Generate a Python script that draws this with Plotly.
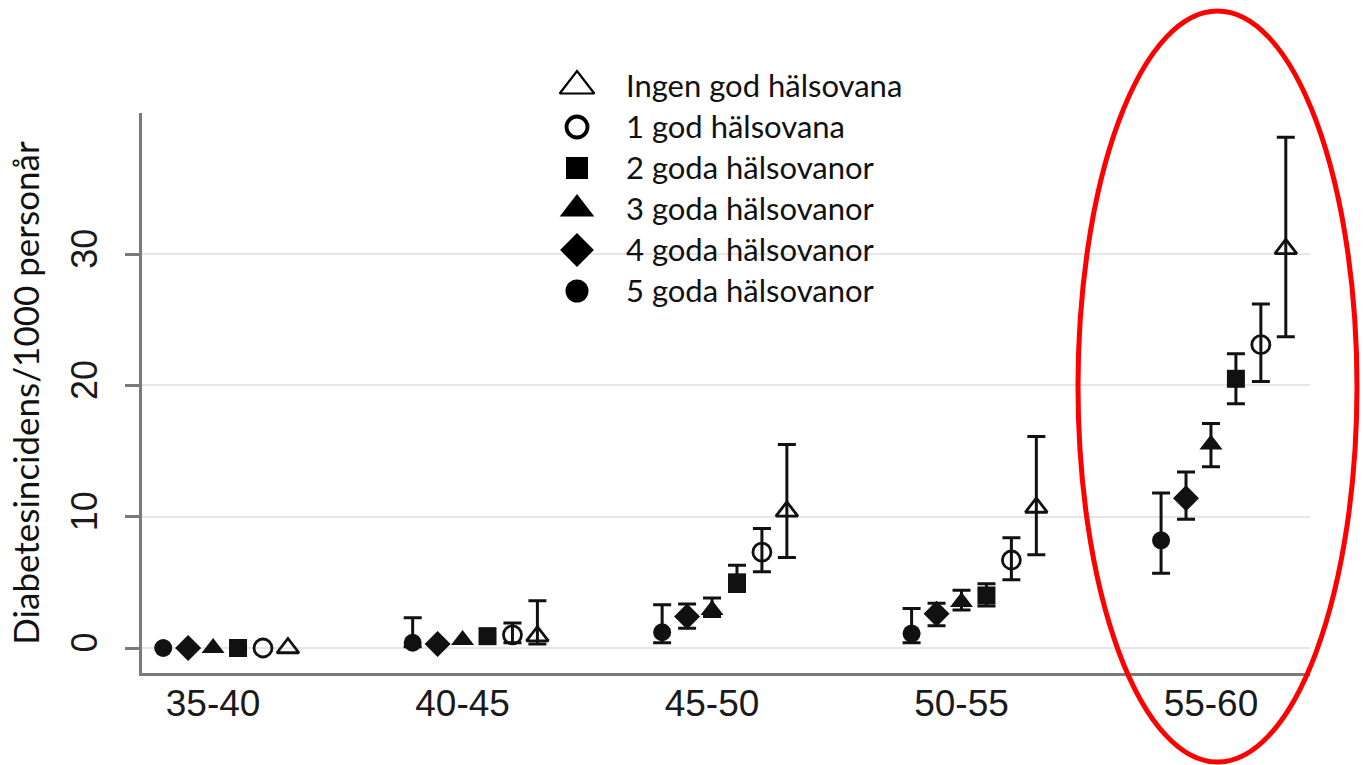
import plotly.graph_objects as go

# ---------------- data ----------------
age_groups = ["35-40", "40-45", "45-50", "50-55", "55-60"]

legend_labels = ["Ingen god hälsovana", "1 god hälsovana", "2 goda hälsovanor",
                 "3 goda hälsovanor", "4 goda hälsovanor", "5 goda hälsovanor"]

# incidence per 1000 person-years, with 95% CI (None = no visible interval)
rate_0 = [0.0, 0.9, 10.4, 10.7, 30.4]
upper_0 = [None, 3.6, 15.5, 16.1, 38.9]
lower_0 = [None, 0.3, 6.9, 7.1, 23.7]

rate_1 = [0.0, 1.0, 7.3, 6.7, 23.1]
upper_1 = [None, 1.9, 9.1, 8.4, 26.2]
lower_1 = [None, 0.4, 5.8, 5.2, 20.3]

rate_2 = [0.0, 0.9, 5.0, 4.0, 20.5]
upper_2 = [None, None, 6.3, 4.9, 22.4]
lower_2 = [None, None, 4.3, 3.2, 18.6]

rate_3 = [0.0, 0.6, 2.9, 3.5, 15.5]
upper_3 = [None, None, 3.8, 4.4, 17.1]
lower_3 = [None, None, 2.4, 2.9, 13.8]

rate_4 = [0.0, 0.3, 2.4, 2.6, 11.4]
upper_4 = [None, None, 3.35, 3.4, 13.4]
lower_4 = [None, None, 1.5, 1.7, 9.8]

rate_5 = [0.0, 0.4, 1.2, 1.1, 8.2]
upper_5 = [None, 2.3, 3.3, 3.0, 11.8]
lower_5 = [None, 0.1, 0.4, 0.4, 5.7]

y_ticks = [0, 10, 20, 30]

# ---------------- styling ----------------
W, H = 1363, 765
PL, PR, PT, PB = 142, 1310, 113, 673  # main plot area in pixels
PAPER_TOP = 5                          # top of paper area in pixels
INK = "#111111"
series = [
    # label index, rates, upper, lower, symbol, size, x-offset slot
    (5, rate_5, upper_5, lower_5, "circle", 18, -2),
    (4, rate_4, upper_4, lower_4, "diamond", 20, -1),
    (3, rate_3, upper_3, lower_3, "triangle-up", 20, 0),
    (2, rate_2, upper_2, lower_2, "square", 18, 1),
    (1, rate_1, upper_1, lower_1, "circle-open", 18, 2),
    (0, rate_0, upper_0, lower_0, "triangle-up-open", 19, 3),
]
legend_sizes = {0: 30, 1: 21, 2: 22, 3: 30, 4: 26, 5: 23}
slot_width = 0.1
x_range = [-0.285, 4.397]
y_range = [-1.904, 40.74]

fig = go.Figure()

for li, rates, up, lo, sym, size, slot in series:
    open_sym = sym.endswith("-open")
    mk = dict(symbol=sym, size=size, color=INK,
              line=dict(width=2.8 if open_sym else 0, color=INK))
    xs_ci, ys_ci, ep, em = [], [], [], []
    xs_no, ys_no = [], []
    for g, v in enumerate(rates):
        x = g + slot * slot_width
        if up[g] is None:
            xs_no.append(x); ys_no.append(v)
        else:
            xs_ci.append(x); ys_ci.append(v)
            ep.append(up[g] - v); em.append(v - lo[g])
    fig.add_trace(go.Scatter(
        x=xs_ci, y=ys_ci, mode="markers", marker=mk, name=legend_labels[li],
        showlegend=False, cliponaxis=False,
        error_y=dict(type="data", symmetric=False, array=ep, arrayminus=em,
                     color=INK, thickness=3, width=9)))
    fig.add_trace(go.Scatter(
        x=xs_no, y=ys_no, mode="markers", marker=mk, name=legend_labels[li],
        showlegend=False, cliponaxis=False))

# ---------------- legend drawn on its own pixel-scaled axis ----------------
legend_marker_px = 577
legend_text_px = 626
legend_top_px = 86
legend_row_px = 41
legend_text_dy = 3
sym_by_label = {li: sym for li, _, _, _, sym, _, _ in series}
for i, lab in enumerate(legend_labels):
    sym = sym_by_label[i]
    open_sym = sym.endswith("-open")
    fig.add_trace(go.Scatter(
        x=[legend_marker_px], y=[legend_top_px + i * legend_row_px],
        xaxis="x2", yaxis="y2", mode="markers", showlegend=False,
        cliponaxis=False, hoverinfo="skip",
        marker=dict(symbol=sym, size=legend_sizes[i], color="#000000",
                    line=dict(width=(3.8 if sym == "circle-open" else 2.2) if open_sym else 0,
                              color="#000000"))))
fig.add_trace(go.Scatter(
    x=[legend_text_px] * len(legend_labels),
    y=[legend_top_px + legend_text_dy + i * legend_row_px for i in range(len(legend_labels))],
    xaxis="x2", yaxis="y2", mode="text", text=legend_labels,
    textposition="middle right", showlegend=False, cliponaxis=False,
    hoverinfo="skip",
    textfont=dict(family="Lato, Carlito, sans-serif", size=31, color="#111111")))

# ---------------- red highlight ellipse ----------------
def px_x(p):
    return (p - PL) / (PR - PL)

def px_y(p):
    return (PB - p) / (PB - PAPER_TOP)

fig.add_shape(type="circle", xref="paper", yref="paper",
              x0=px_x(1078), x1=px_x(1357), y0=px_y(762), y1=px_y(11),
              line=dict(color="#ff0000", width=5), layer="above")

axis_col = "#7a7a7a"
fig.update_layout(
    width=W, height=H,
    margin=dict(l=PL, r=W - PR, t=PAPER_TOP, b=H - PB, pad=0),
    paper_bgcolor="white", plot_bgcolor="rgba(0,0,0,0)",
    showlegend=False,
    xaxis=dict(range=x_range, tickmode="array", tickvals=list(range(len(age_groups))),
               ticktext=age_groups, showgrid=False, zeroline=False,
               showline=True, linecolor=axis_col, linewidth=3, ticks="", ticklen=0,
               ticklabelstandoff=-4,
               tickfont=dict(family="Liberation Sans, Arial, sans-serif", size=37, color="#1a1a1a")),
    yaxis=dict(range=y_range, domain=[0, px_y(PT)], tickmode="array", tickvals=y_ticks,
               showgrid=True, gridcolor="#e6e6e6", gridwidth=2, zeroline=False,
               showline=True, linecolor=axis_col, linewidth=3,
               ticks="outside", ticklen=14, tickwidth=2.5, tickcolor=axis_col,
               tickangle=-90, ticklabelstandoff=14,
               tickfont=dict(family="Liberation Sans, Arial, sans-serif", size=36, color="#1a1a1a"),
               title=dict(text="Diabetesincidens/1000 personår", standoff=14,
                          font=dict(family="Lato, Carlito, sans-serif", size=35, color="#111111"))),
    xaxis2=dict(anchor="y2", domain=[0, 1], range=[PL, PR], visible=False),
    yaxis2=dict(anchor="x2", domain=[0, 1], range=[PB, PAPER_TOP], visible=False),
)

fig.write_html("out.html")
